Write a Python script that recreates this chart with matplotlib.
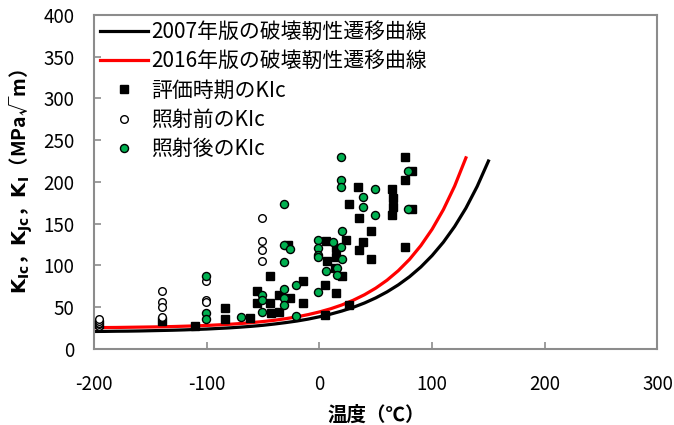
import numpy as np
import matplotlib.pyplot as plt

plt.rcParams['font.family'] = ['Noto Sans CJK JP', 'DejaVu Sans']
plt.rcParams['axes.unicode_minus'] = False

# 破壊靭性遷移曲線 (10℃刻みの読み取り値)
t_2007 = np.arange(-200, 151, 10)
k_2007 = [20.9, 21.0, 21.2, 21.3, 21.5, 21.8, 22.1, 22.4, 22.8, 23.3,
          23.8, 24.5, 25.2, 26.1, 27.1, 28.3, 29.8, 31.5, 33.4, 35.7,
          38.5, 41.7, 45.4, 49.8, 55.0, 61.1, 68.3, 76.7, 86.5, 98.1,
          111.8, 127.8, 146.6, 168.6, 194.6, 225.0]
t_2016 = np.arange(-200, 131, 10)
k_2016 = [25.5, 25.6, 25.7, 25.9, 26.1, 26.3, 26.5, 26.8, 27.2, 27.6,
          28.1, 28.8, 29.5, 30.4, 31.5, 32.8, 34.3, 36.2, 38.4, 41.1,
          44.3, 48.1, 52.7, 58.3, 64.9, 72.8, 82.3, 93.7, 107.3, 123.7,
          143.3, 166.8, 195.0, 228.8]

# 評価時期のKIc
t_eval = [-196, -140, -110, -84, -84, -62, -55, -55, -44, -44, -43,
          -36, -36, -28, -26, -15, -15, 5, 5, 6, 7, 14, 15, 15, 15, 20, 24,
          26, 26, 34, 35, 35, 39, 46, 46, 64, 64, 65, 65, 76, 76, 76, 82, 82]
k_eval = [30, 34, 28, 49, 36, 37, 69, 55, 87, 55, 43,
          64, 44, 124, 61, 81, 55, 77, 41, 129, 105, 97, 67, 121, 110, 87, 131,
          174, 52, 194, 157, 119, 128, 141, 108, 192, 160, 181, 170, 230, 202, 122, 213, 167]

# 照射前のKIc
t_pre = [-196, -196, -196, -196, -196, -140, -140, -140, -140, -101, -101, -101,
         -51, -51, -51, -51]
k_pre = [27.5, 29.5, 31.5, 33.5, 35.5, 69, 56, 50, 38, 81, 59, 56,
         157, 129, 119, 105]

# 照射後のKIc
t_post = [-101, -101, -101, -70, -51, -51, -51, -31, -31, -26, -31, -31, -31, -31,
          -21, -21, -1, -1, -1, -1, -1, 6, 12, 16, 16,
          19, 19, 19, 20, 19, 20, 39, 39, 49, 49, 79, 79]
k_post = [87, 43, 36, 38, 64, 59, 44, 174, 124, 120, 104, 72, 61, 53,
          76, 40, 131, 121, 113, 110, 68, 93, 128, 97, 89,
          230, 202, 194, 141, 122, 108, 182, 170, 191, 160, 213, 167]

fig = plt.figure(figsize=(6.74, 4.25), dpi=100)
ax = fig.add_axes([0.1395, 0.179, 0.836, 0.786])

ax.plot(t_2007, k_2007, color='black', lw=2.3, label='2007年版の破壊靭性遷移曲線', zorder=2)
ax.plot(t_2016, k_2016, color='#FF0000', lw=2.3, label='2016年版の破壊靭性遷移曲線', zorder=2)
ax.plot(t_eval, k_eval, 's', color='black', ms=5.7, mec='black', ls='none',
        label='評価時期のKIc', zorder=3)
ax.plot(t_pre, k_pre, 'o', mfc='white', mec='black', mew=1.0, ms=5.5, ls='none',
        label='照射前のKIc', zorder=4)
ax.plot(t_post, k_post, 'o', mfc='#00B050', mec='black', mew=1.0, ms=5.8, ls='none',
        label='照射後のKIc', zorder=5)

ax.set_xlim(-200, 300)
ax.set_ylim(0, 400)
ax.set_xticks(np.arange(-200, 301, 100))
ax.set_yticks(np.arange(0, 401, 50))

for s in ax.spines.values():
    s.set_color('#8C8C8C')
    s.set_linewidth(1.5)
ax.tick_params(direction='in', length=5, width=1.2, color='#8C8C8C',
               labelsize=13.5, pad=14)
ax.tick_params(axis='x', pad=18)

ax.set_xlabel('温度（℃）', fontsize=14, fontweight='bold', labelpad=8)
ax.set_ylabel(r'$\mathbf{K_{Ic}}$，$\mathbf{K_{Jc}}$，$\mathbf{K_{I}}$（MPa√m）',
              fontsize=14, fontweight='bold', labelpad=6)

ax.legend(loc='upper left', bbox_to_anchor=(0, 1), frameon=False, fontsize=15,
          handlelength=2.3, handletextpad=0.15, labelspacing=0.35,
          borderaxespad=0.1, borderpad=0.2)

fig.savefig('out.png', dpi=100)
